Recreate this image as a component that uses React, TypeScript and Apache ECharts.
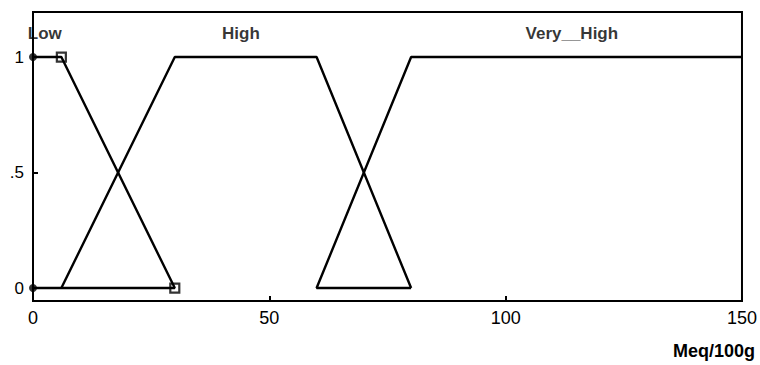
import React, { useEffect, useRef } from "react";
import * as echarts from "echarts";

// Membership function outlines, as [x, membership] vertices
const lowPoints: [number, number][] = [[0, 1], [6, 1], [30, 0], [0, 0]];
const highPoints: [number, number][] = [[6, 0], [30, 1], [60, 1], [80, 0]];
const veryHighPoints: [number, number][] = [[80, 0], [60, 0], [80, 1], [150, 1]];

// Vertex markers of the selected function (Low)
const circleMarkers: [number, number][] = [[0, 1], [0, 0]];
const squareMarkers: [number, number][] = [[6, 1], [30, 0]];

// Function names and where they sit along x
const mfNames = ["Low", "High", "Very__High"];
const mfLabelX = [2.5, 44, 114];
const mfLabelY = 1.104;

const xTicks = [0, 50, 100, 150];
const yTicks = [0, 0.5, 1];
const yTickLabels = ["0", ".5", "1"];
const xAxisTitle = "Meq/100g";

const FONT = "Liberation Sans, Arial, sans-serif";

export default function App() {
  const ref = useRef<HTMLDivElement>(null);

  useEffect(() => {
    if (!ref.current) return;
    const chart = echarts.init(ref.current, undefined, { renderer: "svg" });

    const lineStyle = { color: "#000", width: 2.4 };
    const lineSeries = (data: [number, number][]) => ({
      type: "line",
      data,
      symbol: "none",
      lineStyle,
      silent: true,
      clip: false,
    });

    chart.setOption({
      animation: false,
      backgroundColor: "#fff",
      grid: {
        left: 33,
        right: 15,
        top: 12,
        bottom: 64,
        show: true,
        borderColor: "#000",
        borderWidth: 2,
        backgroundColor: "transparent",
      },
      graphic: [
        {
          type: "text",
          right: 5,
          top: 342,
          style: {
            text: xAxisTitle,
            fill: "#000",
            fontFamily: FONT,
            fontSize: 18,
            fontWeight: "bold",
          },
        },
      ],
      xAxis: {
        type: "value",
        min: 0,
        max: 150,
        interval: 50,
        splitLine: { show: false },
        axisLine: { show: true, onZero: false, lineStyle: { color: "#000", width: 2 } },
        axisTick: { show: true, inside: true, length: 5, lineStyle: { color: "#000", width: 2 } },
        axisLabel: {
          color: "#000",
          fontFamily: FONT,
          fontSize: 18,
          margin: 8,
          customValues: xTicks,
        },
      },
      yAxis: {
        type: "value",
        min: -0.056,
        max: 1.195,
        splitLine: { show: false },
        axisLine: { show: true, onZero: false, lineStyle: { color: "#000", width: 2 } },
        axisTick: {
          show: true,
          inside: true,
          length: 5,
          customValues: yTicks,
          lineStyle: { color: "#000", width: 2 },
        },
        axisLabel: {
          color: "#000",
          fontFamily: FONT,
          fontSize: 17,
          margin: 9,
          customValues: yTicks,
          formatter: (v: number) => {
            const i = yTicks.indexOf(v);
            return i >= 0 ? yTickLabels[i] : "";
          },
        },
      },
      series: [
        lineSeries(lowPoints),
        lineSeries(highPoints),
        lineSeries(veryHighPoints),
        {
          type: "scatter",
          data: circleMarkers,
          symbol: "circle",
          symbolSize: 8,
          itemStyle: { color: "#000" },
          silent: true,
          clip: false,
        },
        {
          type: "scatter",
          data: squareMarkers,
          symbol: "rect",
          symbolSize: 9,
          itemStyle: { color: "#fff", borderColor: "#000", borderWidth: 2.2 },
          silent: true,
          clip: false,
        },
        {
          type: "scatter",
          data: mfNames.map((n, i) => ({ value: [mfLabelX[i], mfLabelY], name: n })),
          symbolSize: 0,
          silent: true,
          label: {
            show: true,
            position: "inside",
            formatter: (p: any) => p.name,
            color: "#000",
            fontFamily: FONT,
            fontSize: 17,
            fontWeight: "bold",
          },
        },
      ],
    });

    return () => chart.dispose();
  }, []);

  return (
    <div
      ref={ref}
      style={{ position: "fixed", left: 0, top: 0, width: 760, height: 365 }}
    />
  );
}
